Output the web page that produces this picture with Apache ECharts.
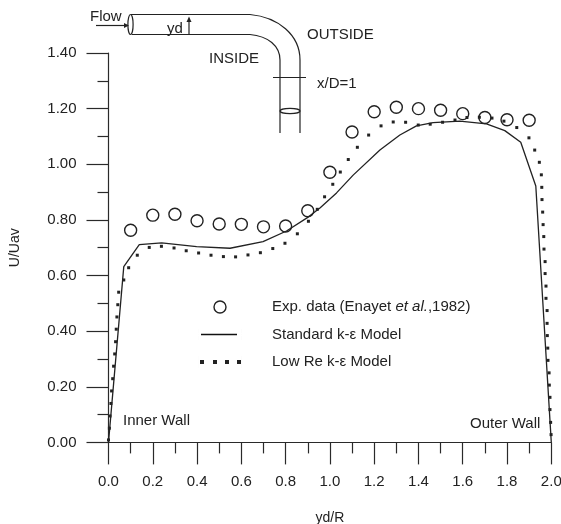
<!DOCTYPE html>
<html><head><meta charset="utf-8">
<style>html,body{margin:0;padding:0;background:#fff}#c{width:561px;height:524px}</style>
<script src="https://cdn.jsdelivr.net/npm/echarts@6/dist/echarts.min.js"></script>
</head><body><div id="c"></div>
<script>
const expData = [[0.1,0.763],[0.2,0.817],[0.3,0.82],[0.4,0.797],[0.5,0.785],[0.6,0.784],[0.7,0.775],[0.8,0.778],[0.9,0.833],[1.0,0.971],[1.1,1.116],[1.2,1.189],[1.3,1.205],[1.4,1.2],[1.5,1.194],[1.6,1.182],[1.7,1.168],[1.8,1.16],[1.9,1.158]];
const standardKe = [[0,0],[0.069,0.632],[0.139,0.711],[0.24,0.717],[0.398,0.704],[0.549,0.698],[0.698,0.722],[0.804,0.76],[0.902,0.81],[0.955,0.843],[1.03,0.897],[1.105,0.961],[1.226,1.051],[1.316,1.105],[1.391,1.138],[1.466,1.15],[1.587,1.155],[1.707,1.145],[1.79,1.121],[1.862,1.079],[1.93,0.922],[2.0,0]];
const lowRe = [[0,0.009],[0.004,0.051],[0.007,0.095],[0.011,0.14],[0.014,0.185],[0.019,0.229],[0.023,0.274],[0.028,0.318],[0.032,0.362],[0.035,0.407],[0.038,0.451],[0.042,0.495],[0.046,0.54],[0.069,0.584],[0.091,0.628],[0.13,0.673],[0.184,0.701],[0.239,0.705],[0.296,0.699],[0.351,0.689],[0.407,0.681],[0.463,0.673],[0.519,0.668],[0.574,0.667],[0.63,0.674],[0.686,0.682],[0.742,0.697],[0.797,0.716],[0.853,0.75],[0.903,0.795],[0.943,0.838],[0.976,0.883],[1.013,0.928],[1.047,0.972],[1.083,1.017],[1.124,1.061],[1.175,1.105],[1.231,1.138],[1.286,1.152],[1.342,1.151],[1.399,1.141],[1.453,1.144],[1.509,1.151],[1.565,1.159],[1.619,1.168],[1.675,1.169],[1.732,1.166],[1.786,1.155],[1.844,1.132],[1.899,1.095],[1.925,1.051],[1.946,1.007],[1.955,0.962],[1.957,0.917],[1.958,0.873],[1.961,0.828],[1.963,0.783],[1.966,0.74],[1.967,0.695],[1.972,0.65],[1.972,0.607],[1.976,0.562],[1.976,0.518],[1.981,0.474],[1.981,0.428],[1.982,0.384],[1.984,0.339],[1.985,0.295],[1.99,0.25],[1.991,0.206],[1.994,0.162],[1.994,0.118],[1.997,0.072],[1.999,0.028]];
const seriesNames = ['Exp. data (Enayet et al.,1982)','Standard k-ε Model','Low Re k-ε Model'];

const INK='#222', FONT='"Liberation Sans",Arial,sans-serif', FS=15;
const txt=(x,y,s,extra)=>({type:'text',x,y,style:Object.assign({text:s,fill:INK,font:FS+'px '+FONT,textVerticalAlign:'middle'},extra||{}),silent:true});
const ln={stroke:'#222',lineWidth:1.2,fill:null};
const seg=(x1,y1,x2,y2)=>({type:'line',shape:{x1,y1,x2,y2},style:ln,silent:true});
const axisLn={color:'#2a2a2a',width:1.2};
const chart=echarts.init(document.getElementById('c'),null,{renderer:'canvas'});
chart.setOption({
 animation:false,
 backgroundColor:'#fff',
 textStyle:{fontFamily:FONT,color:INK},
 grid:{left:108.5,right:9.7,top:53,bottom:81.6,containLabel:false,outerBoundsMode:'none'},
 xAxis:{type:'value',min:0,max:2,interval:0.2,
  name:'yd/R',nameLocation:'middle',nameGap:69,nameTextStyle:{fontSize:14,color:INK,fontFamily:FONT},
  axisLine:{onZero:false,lineStyle:axisLn},
  axisTick:{length:22,lineStyle:axisLn},
  minorTick:{show:true,splitNumber:2,length:11,lineStyle:axisLn},
  splitLine:{show:false},minorSplitLine:{show:false},
  axisLabel:{margin:32,fontSize:FS,color:INK,fontFamily:FONT,formatter:v=>v.toFixed(1)}},
 yAxis:{type:'value',min:0,max:1.4,interval:0.2,
  name:'U/Uav',nameLocation:'middle',nameGap:86,nameRotate:90,nameTextStyle:{fontSize:14,color:INK,fontFamily:FONT},
  axisLine:{onZero:false,lineStyle:axisLn},
  axisTick:{length:22,lineStyle:axisLn},
  minorTick:{show:true,splitNumber:2,length:11,lineStyle:axisLn},
  splitLine:{show:false},minorSplitLine:{show:false},
  axisLabel:{margin:32,fontSize:FS,color:INK,fontFamily:FONT,formatter:v=>v.toFixed(2)}},
 legend:{orient:'vertical',left:198,top:299.5,itemWidth:44,itemHeight:12,itemGap:12.5,padding:0,
  selectedMode:false,
  formatter:n=>n===seriesNames[0]?'{a|Exp. data (Enayet }{i|et al.}{a|,1982)}':'{a|'+n+'}',
  textStyle:{color:INK,fontSize:FS,fontFamily:FONT,padding:[0,0,0,25],
    rich:{a:{fontSize:FS,color:INK,fontFamily:FONT},i:{fontSize:FS,color:INK,fontFamily:FONT,fontStyle:'italic'}}},
  data:[
   {name:seriesNames[0],icon:'circle',itemStyle:{color:'#fff',borderColor:'#222',borderWidth:1.4}},
   {name:seriesNames[1],icon:'path://M3 5.2H39V6.8H3ZM0 0H0.01V12H0ZM44 0H43.99V12H44Z',itemStyle:{color:'#111',borderWidth:0}},
   {name:seriesNames[2],icon:'path://M2 4H6V8H2ZM15 4H19V8H15ZM27 4H31V8H27ZM39 4H43V8H39ZM0 0H0.01V12H0ZM44 0H43.99V12H44Z',itemStyle:{color:'#222',borderWidth:0}}
  ]},
 series:[
  {name:seriesNames[0],type:'scatter',data:expData,symbol:'circle',symbolSize:12,clip:false,z:4,
   itemStyle:{color:'rgba(255,255,255,0)',borderColor:'#222',borderWidth:1.4,opacity:1}},
  {name:seriesNames[1],type:'line',data:standardKe,showSymbol:false,symbol:'none',clip:false,z:3,
   lineStyle:{color:'#222',width:1.3},itemStyle:{color:'#222'}},
  {name:seriesNames[2],type:'scatter',data:lowRe,symbol:'rect',symbolSize:3,clip:false,z:3,
   itemStyle:{color:'#222',opacity:1}}
 ],
 graphic:{elements:[
  seg(131,14.5,250,14.5),
  {type:'bezierCurve',shape:{x1:250,y1:14.5,cpx1:278,cpy1:17,cpx2:300,cpy2:35,x2:300,y2:60},style:ln,silent:true},
  seg(300,60,300,133),
  seg(132,34.5,250,34.5),
  {type:'bezierCurve',shape:{x1:250,y1:34.5,cpx1:268,cpy1:36,cpx2:280,cpy2:46,x2:280,y2:60},style:ln,silent:true},
  seg(280,60,280,133),
  {type:'ellipse',shape:{cx:130.5,cy:24.5,rx:2.6,ry:10},style:ln,silent:true},
  {type:'ellipse',shape:{cx:290,cy:111,rx:10,ry:2.6},style:ln,silent:true},
  seg(273,77.5,306,77.5),
  seg(96,25.5,125,25.5),
  {type:'polygon',shape:{points:[[124,23],[129,25.5],[124,28]]},style:{fill:'#222'},silent:true},
  seg(189,21,189,34),
  {type:'polygon',shape:{points:[[186.5,22],[189,16.5],[191.5,22]]},style:{fill:'#222'},silent:true},
  txt(90,17,'Flow'),txt(167,29,'yd'),txt(307,35,'OUTSIDE'),txt(209,59,'INSIDE'),txt(317,84,'x/D=1'),
  txt(123,420.5,'Inner Wall'),txt(470,424,'Outer Wall')
 ]}
});
</script></body></html>
